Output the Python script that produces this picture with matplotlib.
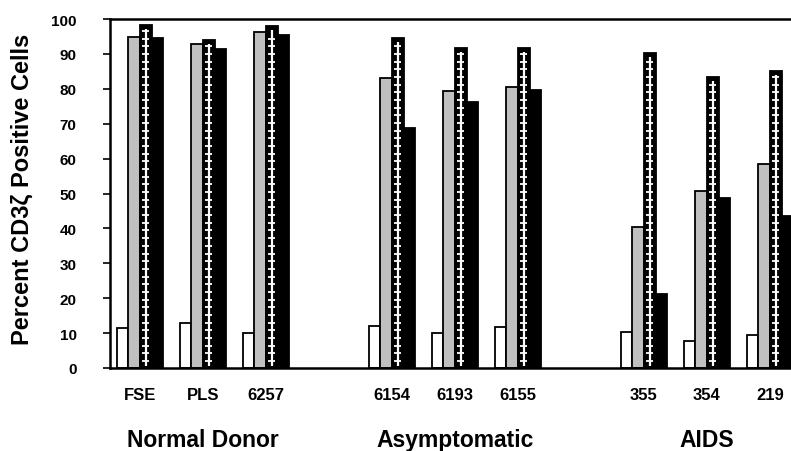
import matplotlib
matplotlib.use("Agg")
import matplotlib.pyplot as plt
import matplotlib.transforms as mtransforms
import numpy as np

plt.rcParams['font.family'] = ['Liberation Sans', 'DejaVu Sans']

samples = ["FSE", "PLS", "6257", "6154", "6193", "6155", "355", "354", "219"]
positions = [0, 1, 2, 4, 5, 6, 8, 9, 10]
groups = ["Normal Donor", "Asymptomatic", "AIDS"]
group_centers = [1, 5, 9]

white_vals = [11.5, 12.8, 10.1, 11.9, 9.9, 11.7, 10.4, 7.7, 9.5]
gray_vals = [94.9, 92.8, 96.4, 83.1, 79.5, 80.6, 40.5, 50.8, 58.5]
hatched_vals = [98.4, 94.1, 98.1, 94.5, 91.7, 91.7, 90.4, 83.4, 85.2]
black_vals = [94.6, 91.4, 95.5, 68.9, 76.1, 79.7, 21.2, 48.7, 43.6]

yticks = [0, 10, 20, 30, 40, 50, 60, 70, 80, 90, 100]

fig = plt.figure(figsize=(7.91, 4.52), dpi=100)
ax = fig.add_axes([110/791, 1-369/452, 691.5/791, 349/452])

x = np.array(positions, dtype=float)
w = 0.183
ax.bar(x - 1.5*w, white_vals, w, color='white', edgecolor='black', linewidth=1.3, zorder=2)
ax.bar(x - 0.5*w, gray_vals, w, color='#c0c0c0', edgecolor='black', linewidth=1.3, zorder=2)
ax.bar(x + 0.5*w, hatched_vals, w, color='black', edgecolor='black', linewidth=1.3, zorder=2)
ax.bar(x + 1.5*w, black_vals, w, color='black', edgecolor='black', linewidth=1.3, zorder=2)

# ladder-like white pattern inside hatched bars
for xi, v in zip(x + 0.5*w, hatched_vals):
    ax.vlines(xi, 0.6, v - 1.2, color='white', linewidth=1.6, zorder=3)
    ys = np.arange(2.0, v - 1.5, 2.2)
    ax.hlines(ys, xi - w*0.3, xi + w*0.3, color='white', linewidth=1.3, zorder=3)

ax.set_xlim(-0.476, 10.5)
ax.set_ylim(0, 100)
ax.set_yticks(yticks)
ax.set_yticklabels([str(t) for t in yticks], fontsize=11, fontweight='bold')
ax.tick_params(axis='y', direction='out', length=5, width=1.2, pad=19)
ax.set_xticks(positions)
ax.set_xticklabels(samples, fontsize=12, fontweight='bold')
ax.tick_params(axis='x', length=0, pad=14)

for s in ['left', 'top', 'bottom']:
    ax.spines[s].set_linewidth(1.8)
ax.spines['right'].set_visible(False)

ax.set_ylabel("Percent CD3ζ Positive Cells", fontsize=17, fontweight='bold')
ax.yaxis.set_label_coords(-0.110, 0.516)

trans = mtransforms.blended_transform_factory(ax.transData, fig.transFigure)
for gc, g in zip(group_centers, groups):
    ax.text(gc, 1-441/452, g, transform=trans, ha='center', va='center',
            fontsize=16.5, fontweight='bold')

fig.savefig("out.png", dpi=100)
